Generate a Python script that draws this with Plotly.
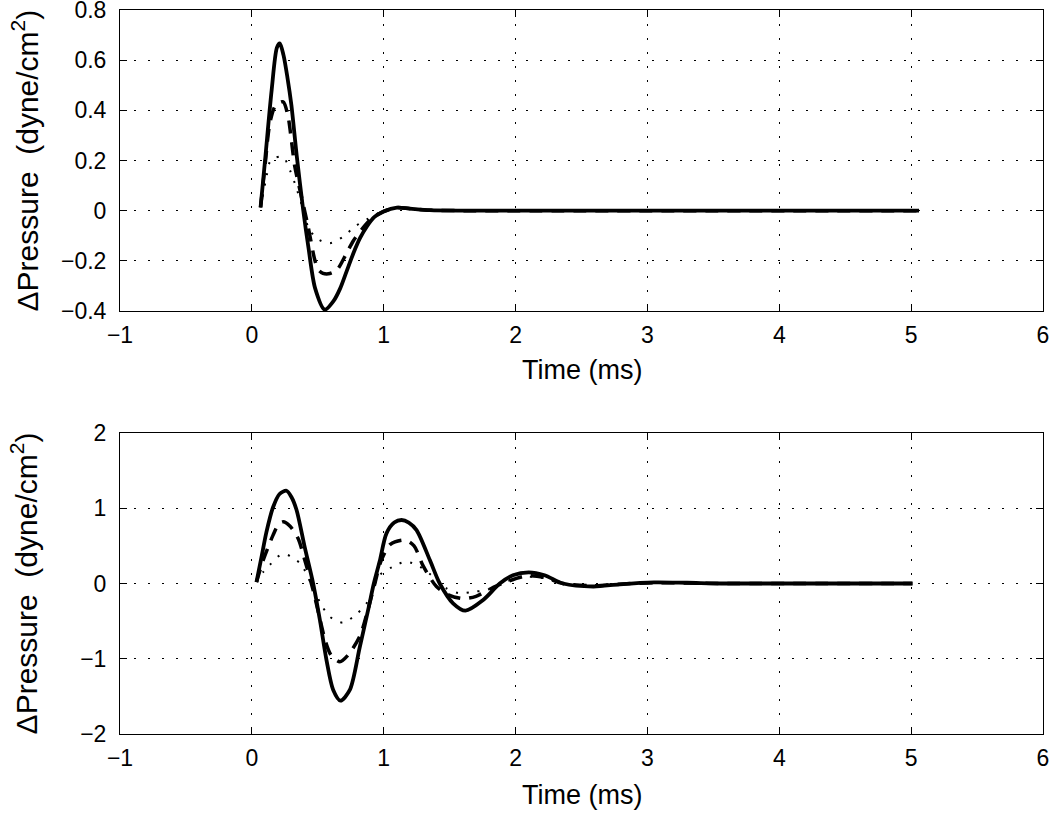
import plotly.graph_objects as go

# ---- data ----
t_top_solid = [0.066, 0.10, 0.15, 0.19, 0.212, 0.24, 0.27, 0.30, 0.34, 0.39, 0.43, 0.48, 0.553, 0.62, 0.67, 0.72,
               0.77, 0.82, 0.87, 0.93, 1.00, 1.10, 1.20, 1.35, 1.6, 5.06]
p_top_solid = [0.013, 0.20, 0.48, 0.65, 0.667, 0.62, 0.53, 0.42, 0.22, 0.0, -0.15, -0.31, -0.395, -0.36, -0.31, -0.24,
               -0.17, -0.11, -0.065, -0.025, -0.003, 0.012, 0.008, 0.002, 0.0, 0.0]

t_top_dash = [0.066, 0.10, 0.137, 0.18, 0.237, 0.275, 0.30, 0.326, 0.37, 0.427, 0.477, 0.503, 0.54, 0.58, 0.62,
              0.655, 0.718, 0.77, 0.83, 0.90, 1.00, 1.10, 1.20, 1.35, 1.6, 5.06]
p_top_dash = [0.013, 0.18, 0.35, 0.42, 0.434, 0.374, 0.28, 0.175, 0.07, -0.064, -0.196, -0.235, -0.25, -0.252, -0.245,
              -0.23, -0.17, -0.12, -0.077, -0.035, -0.003, 0.012, 0.008, 0.002, 0.0, 0.0]

t_top_dot = [0.066, 0.111, 0.137, 0.174, 0.237, 0.288, 0.326, 0.38, 0.427, 0.49, 0.591, 0.692, 0.78, 0.87, 0.97,
             1.10, 1.20, 1.35, 1.6, 5.06]
p_top_dot = [0.013, 0.135, 0.195, 0.21, 0.215, 0.162, 0.109, 0.02, -0.064, -0.11, -0.13, -0.104, -0.064, -0.035,
             -0.008, 0.012, 0.008, 0.002, 0.0, 0.0]

t_bot_solid = [0.035, 0.073, 0.11, 0.16, 0.21, 0.263, 0.30, 0.339, 0.40, 0.465, 0.516, 0.566, 0.617, 0.672, 0.743,
               0.819, 0.882, 0.925, 0.97, 1.021, 1.08, 1.135, 1.19, 1.249, 1.35, 1.425, 1.526, 1.62, 1.754, 1.88,
               1.98, 2.10, 2.22, 2.36, 2.59, 2.79, 3.05, 3.3, 3.6, 5.01]
p_bot_solid = [0.02, 0.35, 0.68, 1.01, 1.19, 1.233, 1.15, 0.977, 0.49, 0.0, -0.485, -1.017, -1.415, -1.557, -1.415,
               -0.84, -0.35, 0.0, 0.30, 0.667, 0.81, 0.844, 0.81, 0.71, 0.312, 0.0, -0.263, -0.361, -0.22, 0.0,
               0.11, 0.148, 0.11, 0.0, -0.04, -0.01, 0.015, 0.01, 0.0, 0.0]

t_bot_dash = [0.035, 0.086, 0.16, 0.20, 0.237, 0.29, 0.35, 0.40, 0.465, 0.52, 0.56, 0.60, 0.667, 0.73, 0.819, 0.88,
              0.93, 0.98, 1.05, 1.16, 1.23, 1.30, 1.40, 1.49, 1.60, 1.70, 1.80, 1.90, 2.08, 2.22, 2.36, 2.59, 2.79,
              3.05, 3.3, 3.6, 5.01]
p_bot_dash = [0.02, 0.31, 0.64, 0.78, 0.82, 0.76, 0.60, 0.32, -0.09, -0.5, -0.78, -0.95, -1.04, -0.95, -0.70, -0.35,
              -0.02, 0.30, 0.52, 0.578, 0.50, 0.23, -0.04, -0.15, -0.2, -0.17, -0.08, 0.0, 0.1, 0.08, 0.0, -0.03,
              -0.008, 0.01, 0.007, 0.0, 0.0]

t_bot_dot = [0.035, 0.09, 0.136, 0.212, 0.25, 0.30, 0.376, 0.477, 0.528, 0.591, 0.692, 0.794, 0.87, 0.97, 1.071,
             1.17, 1.274, 1.36, 1.476, 1.577, 1.678, 1.78, 1.88, 2.08, 2.25, 2.36, 2.59, 2.79, 3.05, 3.3, 3.6, 5.01]
p_bot_dot = [0.02, 0.16, 0.246, 0.375, 0.39, 0.357, 0.246, -0.109, -0.286, -0.441, -0.52, -0.405, -0.263, 0.113,
             0.224, 0.29, 0.224, 0.113, -0.064, -0.13, -0.109, -0.087, 0.0, 0.09, 0.06, 0.0, -0.02, -0.005, 0.008,
             0.005, 0.0, 0.0]

x_ticks = [-1, 0, 1, 2, 3, 4, 5, 6]
y_ticks_top = [-0.4, -0.2, 0, 0.2, 0.4, 0.6, 0.8]
y_ticks_bot = [-2, -1, 0, 1, 2]

x_title = "Time (ms)"
y_title = "\u0394Pressure\u00a0\u00a0(dyne/cm<sup>2</sup>)"

FONT = "Liberation Sans, Arial, Helvetica, sans-serif"
TICK_SIZE = 23
XTITLE_SIZE = 27
YTITLE_SIZE = 30

fig = go.Figure()


def add(t, p, ax, dash, width):
    fig.add_trace(go.Scatter(x=t, y=p, mode="lines", xaxis=ax[0], yaxis=ax[1],
                             line=dict(color="black", width=width, dash=dash, shape="spline", smoothing=0.8),
                             showlegend=False, hoverinfo="skip"))


add(t_top_dot, p_top_dot, ("x", "y"), "2px,9px", 2)
add(t_top_dash, p_top_dash, ("x", "y"), "13px,9px", 3.5)
add(t_top_solid, p_top_solid, ("x", "y"), "solid", 3.8)
add(t_bot_dot, p_bot_dot, ("x2", "y2"), "2px,9px", 2)
add(t_bot_dash, p_bot_dash, ("x2", "y2"), "13px,9px", 3.5)
add(t_bot_solid, p_bot_solid, ("x2", "y2"), "solid", 3.8)

tickfont = dict(size=TICK_SIZE, family=FONT, color="black")
common = dict(showline=True, linecolor="black", linewidth=1, mirror="allticks", ticks="inside", ticklen=7,
              tickcolor="black", showgrid=True, gridcolor="black", griddash="2px,12px", gridwidth=1,
              zeroline=False, tickfont=tickfont, automargin=False, ticklabeloverflow="allow")
common_x = dict(common, range=[-1, 6], tickmode="array", tickvals=x_ticks, ticklabelstandoff=3)
common_y = dict(common, ticklabelstandoff=8)

fig.update_layout(
    template="none",
    width=1050, height=813,
    margin=dict(l=120, r=7, t=10, b=79),
    paper_bgcolor="white", plot_bgcolor="white",
    showlegend=False,
    xaxis=dict(common_x, anchor="y", domain=[0, 1]),
    yaxis=dict(common_y, anchor="x", domain=[0.5843, 1.0], range=[-0.4, 0.8], tickmode="array",
               tickvals=y_ticks_top),
    xaxis2=dict(common_x, anchor="y2", domain=[0, 1]),
    yaxis2=dict(common_y, anchor="x2", domain=[0.0, 0.4157], range=[-2, 2], tickmode="array",
                tickvals=y_ticks_bot),
)

# axis titles as annotations (positions in paper coordinates)
for yc in (0.792, 0.2079):
    fig.add_annotation(text=y_title, xref="paper", yref="paper", x=-0.103, y=yc, textangle=-90,
                       showarrow=False, xanchor="center", yanchor="middle",
                       font=dict(size=YTITLE_SIZE, family=FONT, color="black"))
for yc in (0.5028, -0.084):
    fig.add_annotation(text=x_title, xref="paper", yref="paper", x=0.5, y=yc,
                       showarrow=False, xanchor="center", yanchor="middle",
                       font=dict(size=XTITLE_SIZE, family=FONT, color="black"))

fig.write_html(
    "out.html",
    config={"displayModeBar": False, "staticPlot": True},
    post_script="document.body.style.margin='0px';document.body.style.padding='0px';"
                "document.body.style.overflow='hidden';",
)
